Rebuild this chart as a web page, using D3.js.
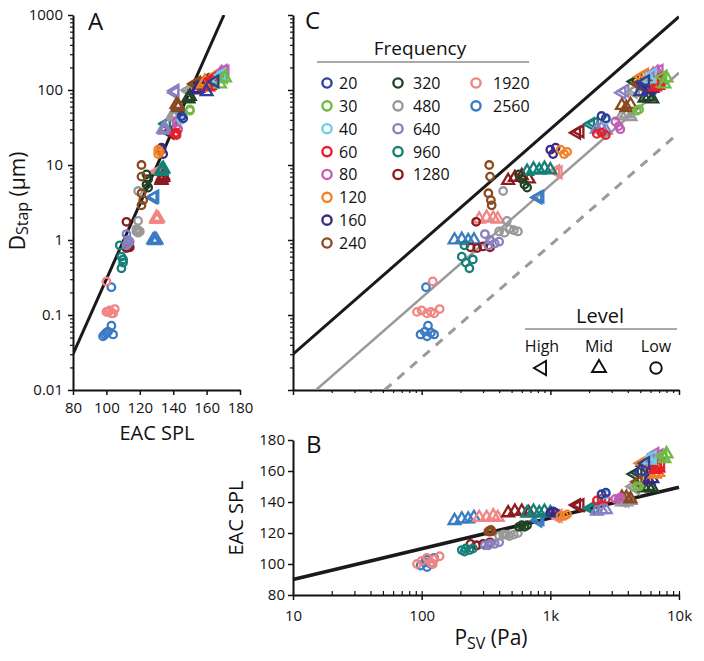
<!DOCTYPE html>
<html>
<head>
<meta charset="utf-8">
<script src="https://cdn.jsdelivr.net/npm/d3@7"></script>
<style>
body { margin: 0; background: #fff; }
svg text { font-family: "Open Sans", sans-serif; fill: #111; }
</style>
</head>
<body>
<div id="chart"></div>
<script>
// frequencies (Hz) and their colours
const freqs = [20, 30, 40, 60, 80, 120, 160, 240, 320, 480, 640, 960, 1280, 1920, 2560];
const freqColors = ["#2f3f97", "#6dbb45", "#6ccfe6", "#e4202a", "#c25fb5", "#f28124", "#3b2785",
    "#8a4a1f", "#1f4426", "#999999", "#8781c2", "#168078", "#8c1b1f", "#f08583", "#3b7bc4"];
const legendCols = [[20, 30, 40, 60, 80, 120, 160, 240], [320, 480, 640, 960, 1280], [1920, 2560]];
const levels = ["High", "Mid", "Low"];
const levelKeys = ["H", "M", "L"];

// freq, level, EAC SPL (dB), Psv (Pa), Dstap (um)
const points = [
    [2560,"L",99,98,0.055],[2560,"L",101,106,0.06],[2560,"L",103,112,0.072],[2560,"L",100,118,0.058],
    [2560,"L",104,125,0.055],[2560,"L",98,110,0.052],[2560,"L",103,108,0.235],
    [1920,"L",100,92,0.11],[1920,"L",102,100,0.115],[1920,"L",104,110,0.105],[1920,"L",101,118,0.11],
    [1920,"L",103,125,0.105],[1920,"L",105,138,0.12],[1920,"L",100,122,0.28],
    [2560,"M",128,180,1.0],[2560,"M",129,205,1.02],[2560,"M",129,230,0.98],[2560,"M",130,255,1.0],
    [2560,"H",128,800,3.7],[2560,"H",129,830,3.8],
    [1920,"M",130,280,1.9],[1920,"M",130,320,2.0],[1920,"M",131,360,1.95],[1920,"M",130,390,1.9],
    [1920,"H",131,1150,8.0],[1920,"H",131,1100,8.3],
    [1280,"L",113,240,0.8],[1280,"L",112,270,0.78],[1280,"L",113,300,0.82],[1280,"L",114,340,0.8],[1280,"L",112,265,1.75],
    [1280,"M",133,470,6.2],[1280,"M",134,530,6.8],[1280,"M",134,600,7.2],[1280,"M",133,680,6.5],
    [1280,"H",138,1600,27],[1280,"H",138,1700,28],
    [960,"L",109,205,0.6],[960,"L",110,220,0.5],[960,"L",109,235,0.42],[960,"L",110,250,0.55],[960,"L",108,215,0.85],
    [960,"M",133,660,8.2],[960,"M",134,740,8.8],[960,"M",133,820,8.5],[960,"M",134,900,9.0],[960,"M",133,1000,8.6],
    [960,"H",136,2050,35],[960,"H",136,2200,36],
    [640,"L",112,310,1.2],[640,"L",113,340,1.0],[640,"L",113,370,0.9],[640,"L",114,400,0.95],[640,"L",112,330,0.85],
    [640,"M",134,2300,30],[640,"M",135,2500,31],[640,"M",135,2700,29],
    [640,"H",141,3600,92],[640,"H",141,3800,98],
    [480,"L",118,400,1.3],[480,"L",119,440,1.25],[480,"L",118,480,1.4],[480,"L",119,520,1.35],[480,"L",120,560,1.3],
    [480,"L",119,430,4.5],[480,"L",119,460,1.8],
    [480,"M",140,3600,45],[480,"M",140,3900,48],[480,"M",141,4200,44],
    [480,"H",150,4400,95],[480,"H",149,4600,100],
    [320,"L",124,570,7.5],[320,"L",125,600,6.5],[320,"L",124,630,5.5],[320,"L",125,660,5.0],
    [320,"M",149,5400,78],[320,"M",150,5800,82],[320,"M",149,6200,76],
    [320,"H",158,4500,130],[320,"H",159,4800,135],
    [240,"L",121,335,10],[240,"L",121,340,7],[240,"L",121,330,4.2],[240,"L",122,345,3.4],[240,"L",121,350,2.9],
    [240,"M",143,3600,62],[240,"M",143,3900,58],[240,"M",142,4200,64],
    [240,"H",153,4800,120],[240,"H",154,5100,125],
    [160,"L",133,1000,16],[160,"L",134,1050,14],[160,"L",133,1100,17],
    [160,"M",154,5800,100],[160,"M",155,6200,105],
    [160,"H",163,5300,125],[160,"H",162,5600,130],
    [120,"L",131,1200,16],[120,"L",131,1280,14],[120,"L",132,1350,15],
    [120,"M",158,6500,120],[120,"M",159,6900,130],
    [120,"H",165,5100,150],[120,"H",166,5400,160],
    [80,"L",142,3200,38],[80,"L",142,3400,33],[80,"L",143,3500,30],
    [80,"M",168,6300,160],[80,"M",169,6800,170],
    [80,"H",171,6500,175],[80,"H",170,7000,180],
    [60,"L",141,2300,26],[60,"L",142,2500,27],[60,"L",142,2700,25],
    [60,"M",161,6500,110],[60,"M",162,6900,115],
    [60,"H",163,6800,140],[60,"H",164,7200,135],
    [40,"L",145,2700,40],[40,"M",167,5900,140],[40,"H",169,6200,160],
    [30,"L",150,4700,53],[30,"L",150,4900,55],
    [30,"M",168,7700,120],[30,"M",171,8000,145],[30,"H",170,7500,150],
    [20,"L",145,2500,45],[20,"L",146,2700,42],
    [20,"M",160,5000,95],[20,"H",165,5500,130]
];

// fitted lines, as end points
const fitA = [[80, 0.03], [170.4, 1000]];
const fitB = [[10, 90], [10000, 149.5]];
const fitCBlack = [[10, 0.03], [10000, 949]];
const fitCGray = [[15.1, 0.01], [10000, 170]];
const fitCDash = [[51.5, 0.01], [10000, 27]];

// ticks
const dTicks = [0.01, 0.1, 1, 10, 100, 1000];
const dTickLabels = ["0.01", "0.1", "1", "10", "100", "1000"];
const splTicks = [80, 100, 120, 140, 160, 180];
const psvTicks = [10, 100, 1000, 10000];
const psvTickLabels = ["10", "100", "1k", "10k"];

var svg = d3.select("#chart").append("svg")
    .attr("width", 704)
    .attr("height", 661);

var colorOf = d3.scaleOrdinal().domain(freqs).range(freqColors);

var xA = d3.scaleLinear().domain([80, 180]).range([73, 240]);
var yD = d3.scaleLog().domain([0.01, 1000]).range([390, 15]);
var xP = d3.scaleLog().domain([10, 10000]).range([293, 679]);
var yB = d3.scaleLinear().domain([80, 180]).range([595, 440]);

var minorD = yD.ticks().filter(t => dTicks.indexOf(t) < 0);
var minorP = xP.ticks().filter(t => psvTicks.indexOf(t) < 0);

function styleAxis(g, w) {
    g.select(".domain").attr("stroke", "#111").attr("stroke-width", w || 2);
    g.selectAll(".tick line").attr("stroke", "#111").attr("stroke-width", 1.5);
    g.selectAll(".tick text").style("font-size", "15px").attr("fill", "#111");
}

// clip areas
var defs = svg.append("defs");
defs.append("clipPath").attr("id", "clipA").append("rect")
    .attr("x", 73).attr("y", 15).attr("width", 240 - 73).attr("height", 390 - 15);
defs.append("clipPath").attr("id", "clipC").append("rect")
    .attr("x", 293).attr("y", 15).attr("width", 679 - 293).attr("height", 390 - 15);

/* ---------- panel A ---------- */
var axA_y = svg.append("g").attr("transform", "translate(73,0)")
    .call(d3.axisLeft(yD).tickValues(dTicks).tickFormat((d, i) => dTickLabels[i])
        .tickSize(5).tickPadding(5).tickSizeOuter(0));
styleAxis(axA_y);
var axA_ym = svg.append("g").attr("transform", "translate(73,0)")
    .call(d3.axisLeft(yD).tickValues(minorD).tickFormat("").tickSize(3).tickSizeOuter(0));
axA_ym.select(".domain").remove();
axA_ym.selectAll(".tick line").attr("stroke", "#111").attr("stroke-width", 1.2);

var axA_x = svg.append("g").attr("transform", "translate(0,390)")
    .call(d3.axisBottom(xA).tickValues(splTicks).tickSize(5).tickPadding(7).tickSizeOuter(0));
styleAxis(axA_x);

var lineA = d3.line().x(d => xA(d[0])).y(d => yD(d[1]));
svg.append("path")
    .attr("d", lineA(fitA))
    .attr("clip-path", "url(#clipA)")
    .attr("fill", "none").attr("stroke", "#1a1a1a").attr("stroke-width", 3);

/* ---------- panel C ---------- */
var axC_y = svg.append("g").attr("transform", "translate(293,0)")
    .call(d3.axisLeft(yD).tickValues(dTicks).tickFormat("").tickSize(5).tickSizeOuter(0));
styleAxis(axC_y);
var axC_ym = svg.append("g").attr("transform", "translate(293,0)")
    .call(d3.axisLeft(yD).tickValues(minorD).tickFormat("").tickSize(3).tickSizeOuter(0));
axC_ym.select(".domain").remove();
axC_ym.selectAll(".tick line").attr("stroke", "#111").attr("stroke-width", 1.2);

var axC_x = svg.append("g").attr("transform", "translate(0,390)")
    .call(d3.axisBottom(xP).tickValues(psvTicks).tickFormat("").tickSize(5).tickSizeOuter(0));
styleAxis(axC_x);
var axC_xm = svg.append("g").attr("transform", "translate(0,390)")
    .call(d3.axisBottom(xP).tickValues(minorP).tickFormat("").tickSize(3).tickSizeOuter(0));
axC_xm.select(".domain").remove();
axC_xm.selectAll(".tick line").attr("stroke", "#111").attr("stroke-width", 1.2);

var lineC = d3.line().x(d => xP(d[0])).y(d => yD(d[1]));
svg.append("path").attr("d", lineC(fitCDash)).attr("clip-path", "url(#clipC)")
    .attr("fill", "none").attr("stroke", "#9a9a9a").attr("stroke-width", 3)
    .attr("stroke-dasharray", "9,8");
svg.append("path").attr("d", lineC(fitCGray)).attr("clip-path", "url(#clipC)")
    .attr("fill", "none").attr("stroke", "#9a9a9a").attr("stroke-width", 2.5);
svg.append("path").attr("d", lineC(fitCBlack)).attr("clip-path", "url(#clipC)")
    .attr("fill", "none").attr("stroke", "#1a1a1a").attr("stroke-width", 3);

/* ---------- panel B ---------- */
var axB_y = svg.append("g").attr("transform", "translate(293,0)")
    .call(d3.axisLeft(yB).tickValues(splTicks).tickSize(5).tickPadding(3).tickSizeOuter(0));
styleAxis(axB_y);

var axB_x = svg.append("g").attr("transform", "translate(0,595)")
    .call(d3.axisBottom(xP).tickValues(psvTicks).tickFormat((d, i) => psvTickLabels[i])
        .tickSize(5).tickPadding(10).tickSizeOuter(0));
styleAxis(axB_x);
var axB_xm = svg.append("g").attr("transform", "translate(0,595)")
    .call(d3.axisTop(xP).tickValues(xP.ticks()).tickFormat("").tickSize(4).tickSizeOuter(0));
axB_xm.select(".domain").remove();
axB_xm.selectAll(".tick line").attr("stroke", "#111").attr("stroke-width", 1.2);

var lineB = d3.line().x(d => xP(d[0])).y(d => yB(d[1]));
svg.append("path").attr("d", lineB(fitB))
    .attr("fill", "none").attr("stroke", "#1a1a1a").attr("stroke-width", 3.5);

/* ---------- markers ---------- */
var symCircle = d3.symbol().type(d3.symbolCircle).size(44)();
var symTri = d3.symbol().type(d3.symbolTriangle).size(60)();

function marker(sel, px, py) {
    sel.append("path")
        .attr("d", d => d[1] === "L" ? symCircle : symTri)
        .attr("transform", d => `translate(${px(d)},${py(d)})` + (d[1] === "H" ? " rotate(-90)" : ""))
        .attr("fill", "none")
        .attr("stroke", d => colorOf(d[0]))
        .attr("stroke-width", 2.3);
}

var gA = svg.append("g").selectAll("g").data(points).enter().append("g");
marker(gA, d => xA(d[2]), d => yD(d[4]));
var gC = svg.append("g").selectAll("g").data(points).enter().append("g");
marker(gC, d => xP(d[3]), d => yD(d[4]));
var gB = svg.append("g").selectAll("g").data(points).enter().append("g");
marker(gB, d => xP(d[3]), d => yB(d[2]));

/* ---------- frequency legend ---------- */
var legX = [327, 398, 476], legTextX = [339, 413, 493];
svg.append("text").attr("x", 420).attr("y", 55).attr("text-anchor", "middle")
    .style("font-size", "19px").text("Frequency");
svg.append("line").attr("x1", 317).attr("x2", 529).attr("y1", 62).attr("y2", 62)
    .attr("stroke", "#555").attr("stroke-width", 1.2);
legendCols.forEach((col, ci) => {
    col.forEach((f, ri) => {
        var cy = 83 + ri * 22.86;
        svg.append("circle").attr("cx", legX[ci]).attr("cy", cy).attr("r", 4.6)
            .attr("fill", "none").attr("stroke", colorOf(f)).attr("stroke-width", 2.4);
        svg.append("text").attr("x", legTextX[ci]).attr("y", cy + 6)
            .style("font-size", "16px").text(f);
    });
});

/* ---------- level legend ---------- */
var lvX = [542, 599, 656];
svg.append("text").attr("x", 600).attr("y", 323).attr("text-anchor", "middle")
    .style("font-size", "20px").text("Level");
svg.append("line").attr("x1", 525).attr("x2", 677).attr("y1", 329).attr("y2", 329)
    .attr("stroke", "#555").attr("stroke-width", 1.2);
levels.forEach((lv, i) => {
    svg.append("text").attr("x", lvX[i]).attr("y", 352).attr("text-anchor", "middle")
        .style("font-size", "16px").text(lv);
    var k = levelKeys[i];
    svg.append("path")
        .attr("d", k === "L" ? d3.symbol().type(d3.symbolCircle).size(105)() : d3.symbol().type(d3.symbolTriangle).size(85)())
        .attr("transform", `translate(${lvX[i]},368)` + (k === "H" ? " rotate(-90)" : ""))
        .attr("fill", "none").attr("stroke", "#111").attr("stroke-width", 1.9);
});

/* ---------- titles and labels ---------- */
svg.append("text").attr("x", 88).attr("y", 30).style("font-size", "24px").text("A");
svg.append("text").attr("x", 305).attr("y", 29).style("font-size", "24px").text("C");
svg.append("text").attr("x", 306).attr("y", 453).style("font-size", "24px").text("B");

svg.append("text").attr("x", 157).attr("y", 440).attr("text-anchor", "middle")
    .style("font-size", "20px").text("EAC SPL");

var yLabA = svg.append("text").attr("transform", "translate(25,201) rotate(-90)")
    .attr("text-anchor", "middle").style("font-size", "21px");
yLabA.append("tspan").text("D");
yLabA.append("tspan").attr("dy", 3).style("font-size", "16px").text("Stap");
yLabA.append("tspan").attr("dy", -3).text(" (\u00b5m)");

svg.append("text").attr("transform", "translate(243,518) rotate(-90)")
    .attr("text-anchor", "middle").style("font-size", "20px").text("EAC SPL");

var xLabB = svg.append("text").attr("x", 491).attr("y", 645)
    .attr("text-anchor", "middle").style("font-size", "21px");
xLabB.append("tspan").text("P");
xLabB.append("tspan").attr("dy", 4).style("font-size", "16px").text("SV");
xLabB.append("tspan").attr("dy", -4).text(" (Pa)");
</script>
</body>
</html>
